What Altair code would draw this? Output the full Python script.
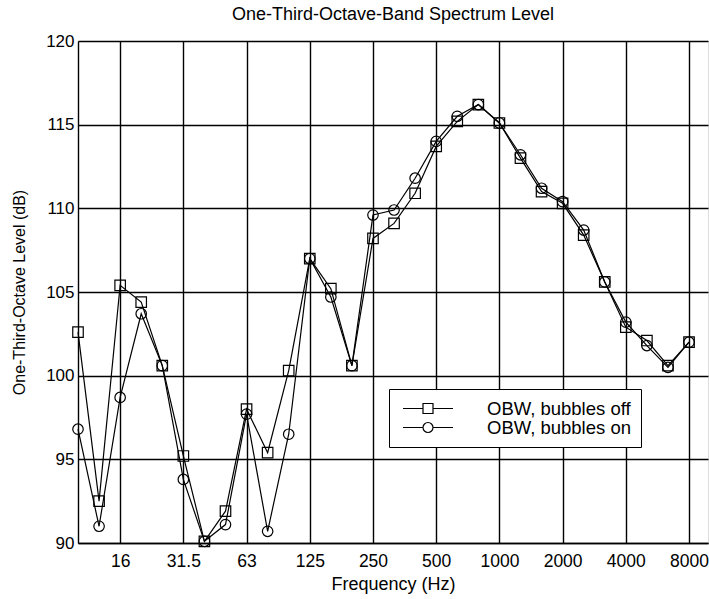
import altair as alt
import pandas as pd

bands = ["10", "12.5", "16", "20", "25", "31.5", "40", "50", "63", "80",
         "100", "125", "160", "200", "250", "315", "400", "500", "630", "800",
         "1000", "1250", "1600", "2000", "2500", "3150", "4000", "5000", "6300", "8000"]

bubbles_off = [102.6, 92.5, 105.4, 104.4, 100.6, 95.2, 90.1, 91.9, 98.0, 95.4,
               100.3, 107.0, 105.2, 100.6, 108.2, 109.1, 110.9, 113.7, 115.2, 116.2,
               115.1, 113.0, 111.0, 110.3, 108.4, 105.6, 102.9, 102.1, 100.6, 102.0]

bubbles_on = [96.8, 91.0, 98.7, 103.7, 100.6, 93.8, 90.1, 91.1, 97.7, 90.7,
              96.5, 107.0, 104.7, 100.6, 109.6, 109.9, 111.8, 114.0, 115.5, 116.2,
              115.1, 113.2, 111.2, 110.4, 108.7, 105.6, 103.2, 101.8, 100.5, 102.0]

series_names = ["OBW, bubbles off", "OBW, bubbles on"]
tick_bands = ["16", "31.5", "63", "125", "250", "500", "1000", "2000", "4000", "8000"]

rows = []
for name, vals in zip(series_names, [bubbles_off, bubbles_on]):
    for i, (b, v) in enumerate(zip(bands, vals)):
        rows.append({"idx": i, "band": b, "level": v, "series": name})
df = pd.DataFrame(rows)

tick_idx = [bands.index(t) for t in tick_bands]
label_map = "{" + ",".join(f"'{bands.index(t)}':'{t}'" for t in tick_bands) + "}"

FONT = "Liberation Sans"

x = alt.X("idx:Q",
          scale=alt.Scale(domain=[0, 29.9], nice=False, zero=False),
          axis=alt.Axis(values=tick_idx, labelExpr=f"{label_map}[toString(datum.value)]",
                        title="Frequency (Hz)", grid=True, gridColor="black", gridWidth=1.4,
                        gridOpacity=1, ticks=False, tickSize=0, domain=True,
                        domainColor="black", domainWidth=1.4,
                        labelPadding=9, labelFontSize=17.5, titleFontSize=18,
                        labelFont=FONT, titleFont=FONT, labelColor="black",
                        titleColor="black", titleFontWeight="normal", titlePadding=6))
y = alt.Y("level:Q",
          scale=alt.Scale(domain=[90, 120], nice=False, zero=False),
          axis=alt.Axis(values=[90, 95, 100, 105, 110, 115, 120],
                        title="One-Third-Octave Level (dB)", grid=True, gridColor="black",
                        gridWidth=1.4, gridOpacity=1, ticks=False, tickSize=0, domain=True,
                        domainColor="black", domainWidth=1.4,
                        labelPadding=4, labelFontSize=17, titleFontSize=16,
                        labelFont=FONT, titleFont=FONT, labelColor="black",
                        titleColor="black", titleFontWeight="normal", titlePadding=18))

base = alt.Chart(df)

lines = base.mark_line(color="black", strokeWidth=1.2).encode(x=x, y=y, detail="series:N")

points = base.mark_point(filled=False, color="black", strokeWidth=1.2, opacity=1).encode(
    x=x, y=y,
    shape=alt.Shape("series:N", scale=alt.Scale(domain=series_names, range=["square", "circle"]),
                    legend=None),
    size=alt.value(110),
)

sq_path = "M-0.647,0H1.706M2.882,0H5.235M1.706,-0.588H2.882V0.588H1.706Z"
ci_path = ("M-0.647,0H1.706M2.882,0H5.235M1.706,0A0.588,0.588 0 1,0 2.882,0"
           "A0.588,0.588 0 1,0 1.706,0Z")

legend_layer = base.mark_point(filled=False, color="black", strokeWidth=1.2).encode(
    x=x, y=y,
    opacity=alt.value(0),
    shape=alt.Shape("series:N",
                    scale=alt.Scale(domain=series_names, range=[sq_path, ci_path]),
                    legend=alt.Legend(title=None, orient="none", legendX=311, legendY=348,
                                      symbolOpacity=1, symbolStrokeColor="black",
                                      symbolFillColor="transparent", symbolStrokeWidth=1.2,
                                      symbolSize=289, labelFontSize=18.5, labelFont=FONT,
                                      labelColor="black", labelOffset=69, rowPadding=0,
                                      padding=10, strokeColor="black", fillColor="white",
                                      labelLimit=300)),
    size=alt.value(289),
)

chart = alt.layer(lines, points, legend_layer).resolve_scale(shape="independent").properties(
    width=630, height=502,
    title=alt.Title("One-Third-Octave-Band Spectrum Level", fontSize=18, font=FONT,
                    fontWeight="normal", color="black", offset=8),
    padding={"left": 78, "top": 41, "right": 1, "bottom": 56},
    autosize="none",
).configure_view(stroke="transparent", strokeWidth=0).configure(background="white")

chart.save("out.html", embed_options={"renderer": "svg", "actions": False})
